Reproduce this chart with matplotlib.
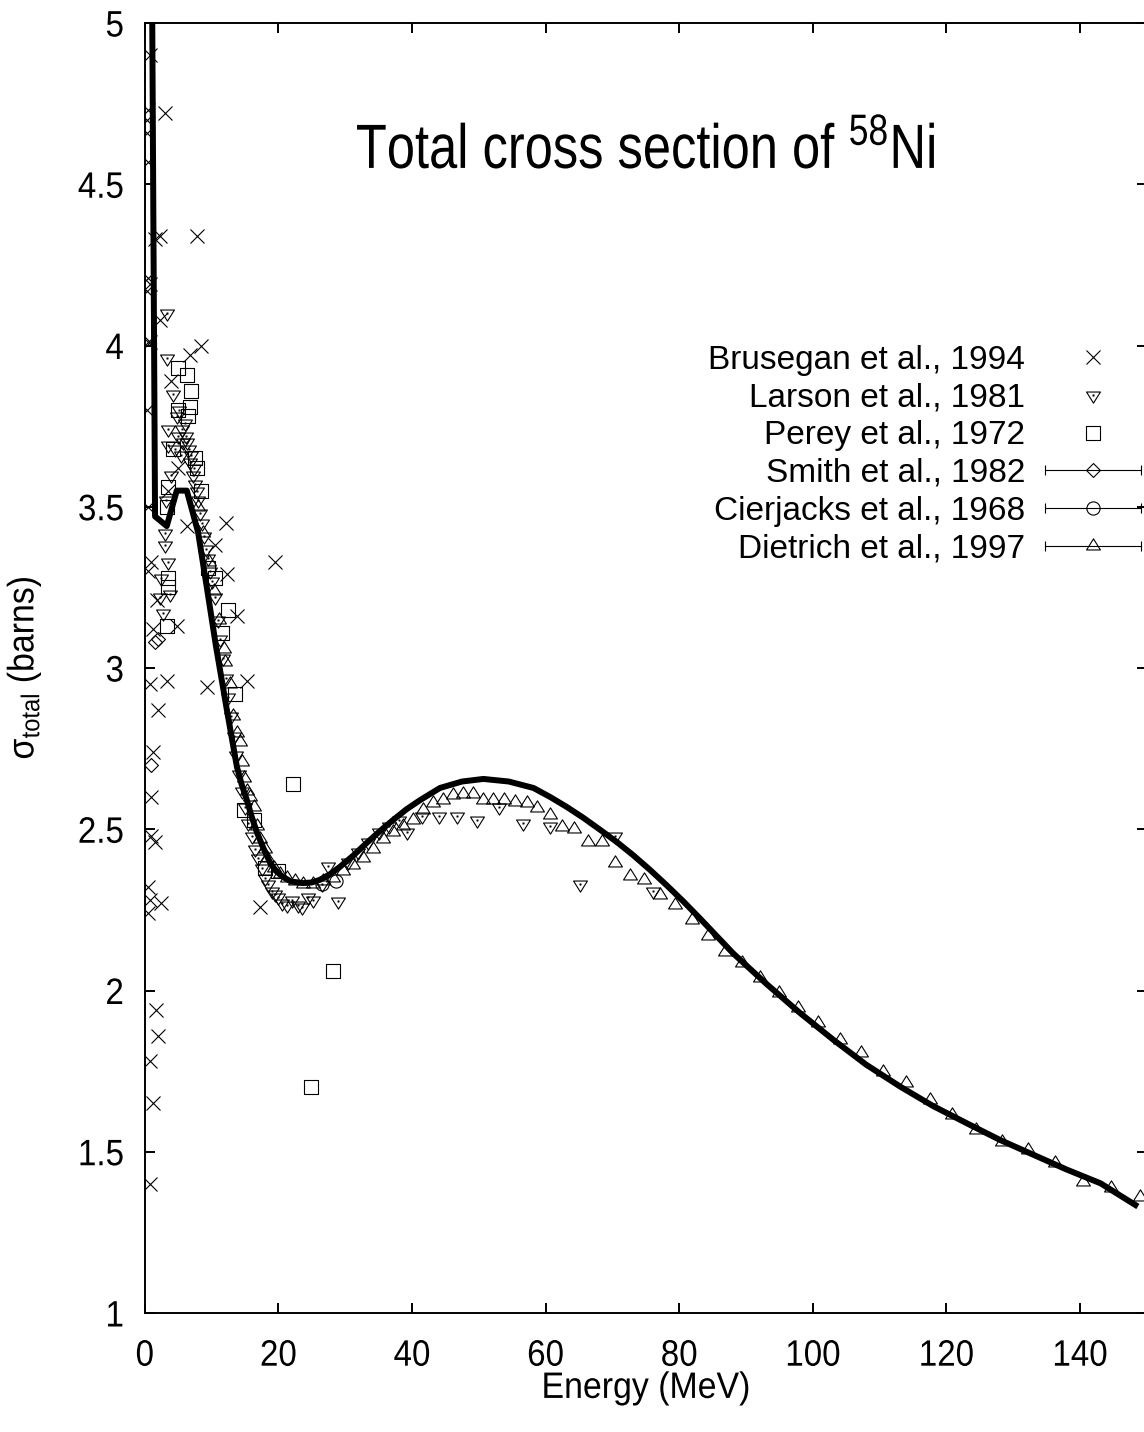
import numpy as np
import matplotlib
matplotlib.use('Agg')
import matplotlib.pyplot as plt
from matplotlib.path import Path
from matplotlib.lines import Line2D
from matplotlib.collections import LineCollection
from matplotlib.container import ErrorbarContainer
from matplotlib.legend_handler import HandlerErrorbar
from matplotlib.patheffects import AbstractPathEffect
from matplotlib.transforms import Affine2D
from matplotlib.ticker import FormatStrFormatter

# --- data ---
brus_e = [0.8, 0.55, 3.0, 0.3, 0.3, 0.55, 2.3, 7.8, 1.5, 0.55, 0.8, 0.3, 2.3, 0.8, 8.5,
          6.8, 4.0, 0.55, 0.3, 0.55, 1.0, 0.55, 1.8, 1.3, 3.3, 0.8, 2.0, 1.3, 1.0, 1.0,
          1.5, 0.55, 0.8, 2.5, 0.55, 1.7, 2.0, 0.8, 1.3, 0.8, 19.5, 12.3, 10.5, 13.8, 15.3,
          9.3, 17.3, 4.8, 6.3, 5.0, 3.5, 12.2]
brus_s = [4.90, 4.73, 4.72, 4.70, 4.66, 4.57, 4.34, 4.34, 4.33, 4.21, 4.19, 4.17, 4.08, 4.01, 4.00,
          3.97, 3.89, 4.01, 3.80, 3.50, 3.33, 3.30, 3.21, 3.12, 2.96, 2.95, 2.87, 2.74, 2.60, 2.48,
          2.46, 2.32, 2.28, 2.27, 2.24, 1.94, 1.86, 1.78, 1.65, 1.40, 3.33, 3.29, 3.38, 3.16, 2.96,
          2.94, 2.26, 3.13, 3.44, 3.62, 3.55, 3.45]

lars_e = [3.3, 3.3, 4.3, 3.5, 3.5, 3.0, 3.0, 3.5, 3.8, 2.8, 2.5, 2.3, 3.2, 4.0, 4.5, 4.8, 5.0,
          5.2, 5.4, 5.6, 5.8, 6.0, 6.2, 6.4, 6.6, 6.8, 7.0, 7.2, 7.4, 7.6, 7.8, 8.0, 8.3, 8.6,
          8.9, 9.2, 9.5, 9.8, 10.1, 10.5, 10.9, 11.3, 11.7, 12.1, 12.5, 12.9, 13.3, 13.7, 14.1,
          14.5, 15.0, 15.5, 16.0, 16.5, 17.0, 17.5, 18.0, 18.5, 19.0, 19.5, 20.0, 20.5, 21.3,
          22.0, 23.0, 23.5, 24.5, 25.2, 26.5, 27.5, 29.0, 30.5, 32.0, 33.5, 35.0, 36.5, 38.0,
          39.2, 41.5, 44.0, 46.7, 49.7, 53.0, 56.7, 60.7, 65.2, 70.4, 76.1]
lars_s = [4.10, 3.96, 3.85, 3.74, 3.69, 3.42, 3.38, 3.33, 3.23, 3.17, 3.28, 3.22, 3.52, 3.60, 3.68,
          3.78, 3.72, 3.80, 3.66, 3.74, 3.70, 3.76, 3.72, 3.70, 3.68, 3.64, 3.66, 3.60, 3.62, 3.57,
          3.55, 3.52, 3.48, 3.45, 3.41, 3.37, 3.34, 3.30, 3.27, 3.22, 3.15, 3.09, 3.03, 2.97, 2.91,
          2.85, 2.79, 2.73, 2.67, 2.62, 2.57, 2.52, 2.48, 2.44, 2.41, 2.38, 2.35, 2.33, 2.31, 2.30,
          2.29, 2.27, 2.265, 2.28, 2.265, 2.26, 2.29, 2.28, 2.33, 2.385, 2.276, 2.40, 2.43, 2.46,
          2.49, 2.51, 2.53, 2.49, 2.54, 2.54, 2.54, 2.53, 2.57, 2.52, 2.51, 2.33, 2.48, 2.31]

perey_e = [5.0, 6.3, 7.0, 5.0, 6.8, 4.3, 7.5, 3.5, 8.5, 3.3, 3.5, 3.5, 3.3, 9.5, 10.5, 11.5,
           12.5, 13.5, 22.2, 14.8, 16.3, 18.0, 20.0, 28.2, 24.9, 6.5, 7.8]
perey_s = [3.93, 3.91, 3.86, 3.80, 3.81, 3.68, 3.65, 3.56, 3.55, 3.50, 3.28, 3.25, 3.13, 3.31, 3.28, 3.11,
           3.18, 2.92, 2.64, 2.56, 2.53, 2.38, 2.37, 2.06, 1.70, 3.78, 3.62]

smith_e = [1.0, 2.0, 1.5]
smith_s = [2.70, 3.09, 3.08]

cier_e = [26.5, 28.7]
cier_s = [2.33, 2.34]

diet_e = [8.0, 8.8, 9.6, 10.4, 11.1, 11.8, 12.0, 12.8, 13.2, 13.8, 14.3, 14.5, 14.8, 15.3, 15.8,
          16.3, 16.8, 17.3, 18.0, 18.3, 19.3, 20.3, 21.3, 22.5, 23.7, 25.2, 26.7, 28.2, 29.7,
          31.2, 32.7, 34.2, 35.7, 37.2, 38.7, 40.2, 41.7, 43.2, 44.7, 46.2, 47.7, 49.2, 50.6,
          52.2, 53.8, 55.4, 57.2, 58.8, 60.7, 62.5, 64.3, 66.4, 68.4, 70.4, 72.6, 74.8, 77.1,
          79.4, 81.9, 84.4, 86.9, 89.4, 92.1, 94.9, 97.8, 100.8, 104.1, 107.3, 110.5, 113.9,
          117.5, 120.9, 124.5, 128.3, 132.3, 136.3, 140.4, 144.7, 149.0]
diet_s = [3.50, 3.42, 3.33, 3.24, 3.15, 3.06, 3.02, 2.95, 2.85, 2.80, 2.77, 2.71, 2.66, 2.62, 2.60,
          2.57, 2.51, 2.47, 2.44, 2.41, 2.38, 2.36, 2.35, 2.34, 2.33, 2.33, 2.34, 2.35, 2.37,
          2.39, 2.41, 2.44, 2.47, 2.49, 2.51, 2.53, 2.56, 2.58, 2.59, 2.606, 2.61, 2.61, 2.59,
          2.59, 2.59, 2.586, 2.58, 2.566, 2.545, 2.508, 2.50, 2.46, 2.46, 2.395, 2.355, 2.343, 2.296,
          2.265, 2.219, 2.17, 2.12, 2.084, 2.038, 1.991, 1.945, 1.898, 1.846, 1.805, 1.748, 1.712,
          1.660, 1.614, 1.567, 1.531, 1.505, 1.464, 1.407, 1.387, 1.361]

fit_e = [1.05, 1.55, 3.3, 4.8, 6.3, 8.0, 9.3, 10.65, 12.3, 13.8, 14.5, 15.3, 16.0, 16.8, 17.8,
         18.8, 19.7, 20.7, 21.9, 23.7, 25.0, 26.2, 27.7, 29.2, 31.2, 33.2, 35.2, 37.2, 39.2,
         41.2, 44.2, 47.5, 50.7, 54.5, 58.2, 60.7, 63.2, 65.7, 68.2, 70.7, 73.1, 75.6, 78.1,
         80.6, 83.1, 88.1, 93.1, 98.0, 103.1, 108.0, 113.1, 118.0, 123.1, 128.0, 133.1, 138.0,
         143.1, 148.3]
fit_s = [5.3, 3.47, 3.44, 3.55, 3.55, 3.42, 3.25, 3.07, 2.87, 2.694, 2.64, 2.59, 2.54, 2.49, 2.44,
         2.395, 2.37, 2.352, 2.338, 2.333, 2.335, 2.343, 2.36, 2.383, 2.418, 2.457, 2.494, 2.529, 2.562,
         2.59, 2.628, 2.648, 2.656, 2.648, 2.628, 2.60, 2.569, 2.535, 2.498, 2.46, 2.42, 2.375, 2.327,
         2.277, 2.224, 2.115, 2.02, 1.932, 1.847, 1.77, 1.702, 1.642, 1.588, 1.537, 1.490, 1.445,
         1.402, 1.335]

labels = ['Brusegan et al., 1994', 'Larson et al., 1981', 'Perey et al., 1972',
          'Smith et al., 1982', 'Cierjacks et al., 1968', 'Dietrich et al., 1997']

FONT = 'Liberation Sans'
plt.rcParams['font.family'] = [FONT, 'DejaVu Sans']
plt.rcParams['mathtext.fontset'] = 'custom'
plt.rcParams['mathtext.rm'] = FONT
plt.rcParams['mathtext.it'] = FONT
plt.rcParams['mathtext.bf'] = FONT
plt.rcParams['mathtext.default'] = 'regular'


class Squeeze(AbstractPathEffect):
    """Draw a text narrower along its own direction (gnuplot fonts are condensed)."""

    def __init__(self, text, sx):
        super().__init__()
        self.text = text
        self.sx = sx

    def draw_path(self, renderer, gc, tpath, affine, rgbFace=None):
        t = self.text
        px, py = t.get_transform().transform(t.get_unitless_position())
        if round(t.get_rotation()) % 180 == 90:
            sq = Affine2D().translate(0, -py).scale(1, self.sx).translate(0, py)
        else:
            sq = Affine2D().translate(-px, 0).scale(self.sx, 1).translate(px, 0)
        renderer.draw_path(gc, tpath, affine + sq, rgbFace)


def squeeze(text, sx):
    text.set_path_effects([Squeeze(text, sx)])


# gnuplot-like open markers
def poly_marker(pts, dot=False):
    p = Path(pts + [pts[0]], closed=True)
    if dot:
        d = 0.07
        p = Path.make_compound_path(p, Path([(-d, -d), (d, -d), (d, d), (-d, d), (-d, -d)], closed=True))
    return p


m_dtri = poly_marker([(-1, 0.5), (1, 0.5), (0, -1.1)], dot=True)
m_utri = poly_marker([(-1, -0.5), (1, -0.5), (0, 1.1)])
m_sq = poly_marker([(-1, -1), (1, -1), (1, 1), (-1, 1)], dot=True)
m_dia = poly_marker([(0, 1), (1, 0), (0, -1), (-1, 0)])

W, H = 1144, 1432
fig = plt.figure(figsize=(W / 100, H / 100), dpi=100)
ax = fig.add_axes([144.7 / W, 119 / H, 1002 / W, 1290 / H])

mk = dict(ls='none', color='black', mfc='none', mew=0.8)
ax.plot(brus_e, brus_s, marker='x', ms=10, **mk)
ax.plot(lars_e, lars_s, marker=m_dtri, ms=11, **mk)
ax.plot(perey_e, perey_s, marker=m_sq, ms=9.5, **mk)
ax.plot(smith_e, smith_s, marker=m_dia, ms=10, **mk)
ax.plot(cier_e, cier_s, marker='o', ms=9.5, **mk)
ax.plot(diet_e, diet_s, marker=m_utri, ms=11, **mk)
ax.plot(fit_e, fit_s, color='black', lw=4.3, solid_joinstyle='round', zorder=5)

ax.set_xlim(0, 150)
ax.set_ylim(1, 5)
ax.set_xticks(np.arange(0, 141, 20))
ax.set_yticks(np.arange(1, 5.01, 0.5))
ax.yaxis.set_major_formatter(FormatStrFormatter('%g'))
ax.tick_params(which='both', direction='in', length=7.2, width=1.4, top=True, right=True,
               labelsize=26.5)
ax.tick_params(axis='x', pad=18.5)
ax.tick_params(axis='y', pad=15)
for s in ax.spines.values():
    s.set_linewidth(1.4)

xl = ax.set_xlabel('Energy (MeV)', fontsize=26.5, labelpad=-2)
yl = ax.set_ylabel(r'$\sigma_{total}$ (barns)', fontsize=26.5, labelpad=21)

title = ax.text(0.5, 1 - (168 - 23) / 1290, r'Total cross section of $^{58}$Ni',
                transform=ax.transAxes, ha='center', va='baseline', fontsize=45)


def eb_proxy(marker, ms):
    data = Line2D([], [], marker=marker, ms=ms, **mk)
    cap = Line2D([], [], marker='|', ls='none', color='black', ms=7, mew=0.8)
    bar = LineCollection([], colors='black', linewidths=0.8)
    return ErrorbarContainer((data, (cap,), (bar,)), has_xerr=True, has_yerr=False)


handles = [Line2D([], [], marker='x', ms=10, **mk),
           Line2D([], [], marker=m_dtri, ms=11, **mk),
           Line2D([], [], marker=m_sq, ms=9.5, **mk),
           eb_proxy(m_dia, 10), eb_proxy('o', 9.5), eb_proxy(m_utri, 11)]
fs = 24
ax.legend(handles, labels, loc='upper right', bbox_to_anchor=(1141 / W, 1 - 345 / H),
          bbox_transform=fig.transFigure, frameon=False, markerfirst=False, fontsize=fs,
          handlelength=96 / (fs / 0.72), handletextpad=20 / (fs / 0.72), labelspacing=0.2,
          borderpad=0, borderaxespad=0,
          handler_map={ErrorbarContainer: HandlerErrorbar(xerr_size=48 / (fs / 0.72))})

# condensed look of the reference text
squeeze(title, 0.81)
for t in ax.get_xticklabels() + ax.get_yticklabels():
    squeeze(t, 0.9)
squeeze(xl, 0.92)
squeeze(yl, 0.92)

fig.savefig('out.png', dpi=100)
